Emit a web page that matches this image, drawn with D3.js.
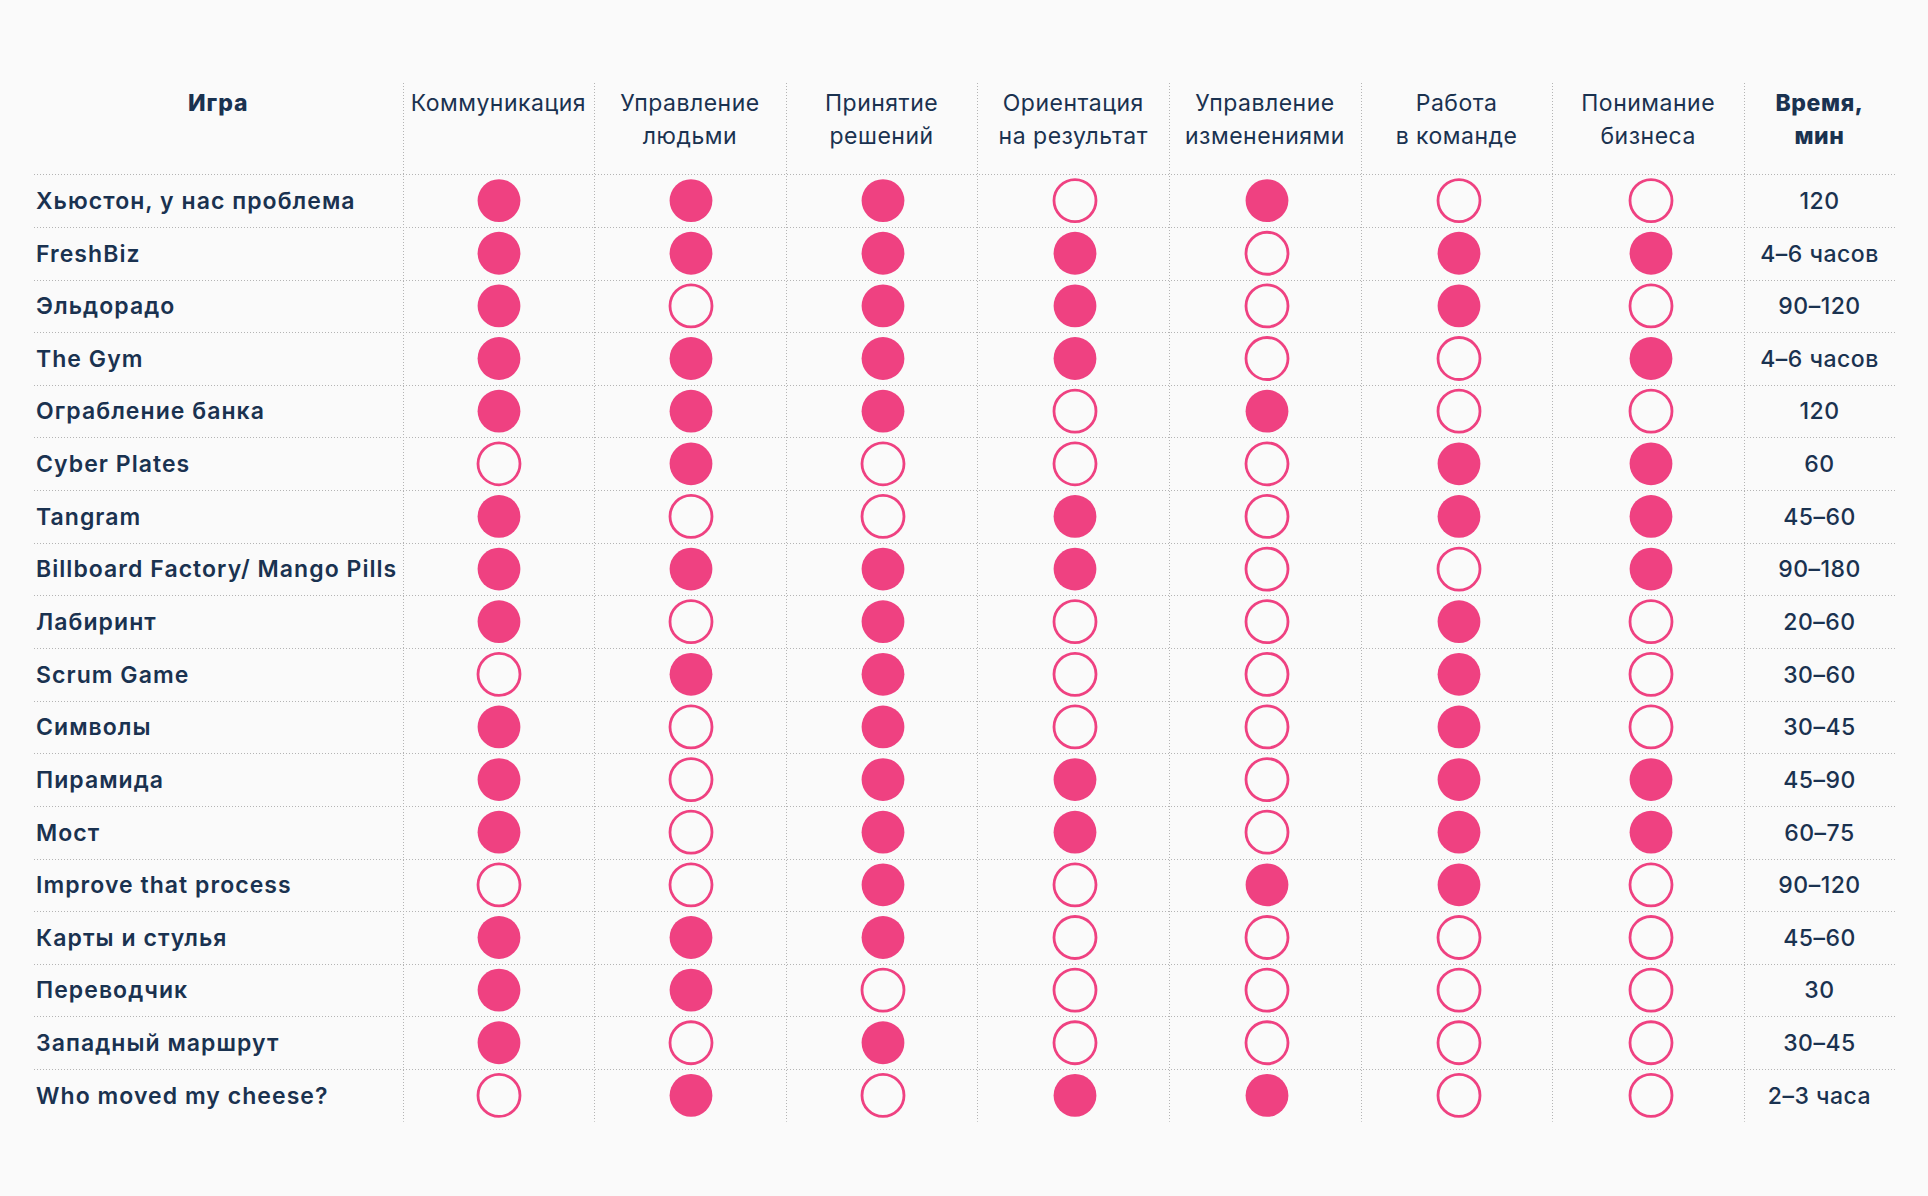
<!DOCTYPE html>
<html>
<head>
<meta charset="utf-8">
<script src="https://cdn.jsdelivr.net/npm/d3@7"></script>
<style>
  html, body { margin: 0; padding: 0; background: #fafafa; }
  svg { display: block; }
  text { font-family: Inter, "Noto Sans", sans-serif; fill: #1a3250; }
</style>
</head>
<body>
<svg id="chart" width="1928" height="1196"></svg>
<script>
// ---- data ----
const skills = [
  ["Коммуникация"],
  ["Управление", "людьми"],
  ["Принятие", "решений"],
  ["Ориентация", "на результат"],
  ["Управление", "изменениями"],
  ["Работа", "в команде"],
  ["Понимание", "бизнеса"]
];
const games = [
  "Хьюстон, у нас проблема", "FreshBiz", "Эльдорадо", "The Gym", "Ограбление банка",
  "Cyber Plates", "Tangram", "Billboard Factory/ Mango Pills", "Лабиринт", "Scrum Game",
  "Символы", "Пирамида", "Мост", "Improve that process", "Карты и стулья",
  "Переводчик", "Западный маршрут", "Who moved my cheese?"
];
const marks = [
  [1,1,1,0,1,0,0],
  [1,1,1,1,0,1,1],
  [1,0,1,1,0,1,0],
  [1,1,1,1,0,0,1],
  [1,1,1,0,1,0,0],
  [0,1,0,0,0,1,1],
  [1,0,0,1,0,1,1],
  [1,1,1,1,0,0,1],
  [1,0,1,0,0,1,0],
  [0,1,1,0,0,1,0],
  [1,0,1,0,0,1,0],
  [1,0,1,1,0,1,1],
  [1,0,1,1,0,1,1],
  [0,0,1,0,1,1,0],
  [1,1,1,0,0,0,0],
  [1,1,0,0,0,0,0],
  [1,0,1,0,0,0,0],
  [0,1,0,1,1,0,0]
];
const durations = [
  "120", "4–6 часов", "90–120", "4–6 часов", "120", "60", "45–60", "90–180", "20–60",
  "30–60", "30–45", "45–90", "60–75", "90–120", "45–60", "30", "30–45", "2–3 часа"
];
const gameHeader = "Игра";
const timeHeader = ["Время,", "мин"];

// ---- layout ----
const pink = "#ef4181";
const gridColor = "#b4b4b4";
const left = 34, right = 1895;
const labelEnd = 402.5, skillEnd = 1744;
const headerTop = 83, bodyTop = 174.3, bodyBottom = 1121.7;

const svg = d3.select("#chart");
svg.append("rect").attr("width", 1928).attr("height", 1196).attr("fill", "#fafafa");

const x = d3.scaleBand().domain(d3.range(skills.length)).range([labelEnd, skillEnd]).padding(0);
const xc = d3.scalePoint().domain(d3.range(skills.length)).range([499, 1651]);
const y = d3.scaleBand().domain(games).range([bodyTop, bodyBottom]).padding(0);

// grid lines
const vLines = d3.range(skills.length).map(i => x(i)).concat([skillEnd]);
svg.append("g").selectAll("line").data(vLines).join("line")
  .attr("x1", d => Math.round(d) + 0.5).attr("x2", d => Math.round(d) + 0.5)
  .attr("y1", headerTop).attr("y2", bodyBottom)
  .attr("stroke", gridColor).attr("stroke-width", 1).attr("stroke-dasharray", "1 2");

svg.append("g").selectAll("line").data(games).join("line")
  .attr("x1", left).attr("x2", right)
  .attr("y1", d => Math.round(y(d)) + 0.5).attr("y2", d => Math.round(y(d)) + 0.5)
  .attr("stroke", gridColor).attr("stroke-width", 1).attr("stroke-dasharray", "1 2");

const fs = 23;
const line1 = 111, lineH = 32.5;

// headers
svg.append("text").attr("x", (left + labelEnd) / 2).attr("y", line1)
  .attr("text-anchor", "middle").attr("font-size", fs).attr("font-weight", 800)
  .attr("letter-spacing", 1)
  .text(gameHeader);

const sh = svg.append("g").selectAll("text").data(skills).join("text")
  .attr("text-anchor", "middle").attr("font-size", fs).attr("font-weight", 400)
  .attr("letter-spacing", 0.5)
  .attr("x", (d, i) => x(i) + x.bandwidth() / 2).attr("y", line1);
sh.selectAll("tspan").data(d => d.map((t, k) => ({t, k}))).join("tspan")
  .attr("x", function() { return this.parentNode.getAttribute("x"); })
  .attr("dy", d => d.k === 0 ? 0 : lineH).text(d => d.t);

const th = svg.append("text").attr("text-anchor", "middle").attr("font-size", fs)
  .attr("font-weight", 800).attr("letter-spacing", 0.6)
  .attr("x", (skillEnd + right) / 2).attr("y", line1);
th.selectAll("tspan").data(timeHeader).join("tspan")
  .attr("x", (skillEnd + right) / 2).attr("dy", (d, k) => k === 0 ? 0 : lineH).text(d => d);

// rows
const rows = svg.append("g").selectAll("g").data(games).join("g")
  .attr("transform", d => `translate(0,${y(d) + y.bandwidth() / 2})`);

rows.append("text").attr("x", 36).attr("y", 8.3).attr("font-size", fs).attr("font-weight", 600)
  .attr("letter-spacing", 1.05)
  .text(d => d);

rows.append("text").attr("x", (skillEnd + right) / 2).attr("y", 8.3)
  .attr("text-anchor", "middle").attr("font-size", fs).attr("font-weight", 500)
  .attr("letter-spacing", 0.5)
  .text((d, i) => durations[i]);

rows.selectAll("circle").data((d, i) => marks[i].map((v, j) => ({v, j}))).join("circle")
  .attr("cx", d => xc(d.j))
  .attr("cy", 0)
  .attr("r", d => d.v ? 21.4 : 21)
  .attr("fill", d => d.v ? pink : "none")
  .attr("stroke", d => d.v ? "none" : pink)
  .attr("stroke-width", 2.8);
</script>
</body>
</html>
